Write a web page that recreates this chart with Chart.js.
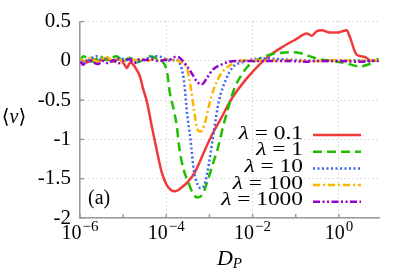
<!DOCTYPE html>
<html>
<head>
<meta charset="utf-8">
<title>&lt;v&gt; vs D_P</title>
<script src="https://cdn.jsdelivr.net/npm/chart.js@4.4.0/dist/chart.umd.min.js"></script>
<style>
  html, body { margin: 0; padding: 0; background: #fff; }
  #wrap { width: 407px; height: 271px; position: relative; }
</style>
</head>
<body>
<div id="wrap"><canvas id="c"></canvas></div>
<script>
// x values are read as decades on the log axis (log10 D_P), y is <v>
var lam01X = [-6.0,-5.85,-5.7,-5.55,-5.4,-5.25,-5.1,-4.98,-4.91,-4.84,-4.76,-4.68,-4.61,-4.54,-4.45,-4.33,-4.22,-4.10,-3.99,-3.90,-3.80,-3.64,-3.50,-3.34,-3.11,-2.95,-2.76,-2.46,-2.13,-1.83,-1.60,-1.30,-0.98,-0.75,-0.63,-0.51,-0.40,-0.21,-0.03,0.18,0.25,0.41,0.60,0.76,0.92];
var lam01Y = [0.01,-0.02,0.02,0.0,0.03,-0.01,0.02,-0.04,-0.09,-0.02,-0.05,-0.12,-0.2,-0.35,-0.52,-0.85,-1.14,-1.43,-1.58,-1.64,-1.66,-1.61,-1.54,-1.42,-1.14,-0.95,-0.76,-0.46,-0.22,-0.04,0.07,0.18,0.28,0.35,0.32,0.38,0.39,0.36,0.36,0.39,0.31,0.08,0.05,0.0,0.01];

var lam1X = [-6.0,-5.92,-5.8,-5.68,-5.55,-5.42,-5.3,-5.15,-5.0,-4.85,-4.7,-4.55,-4.42,-4.3,-4.2,-4.1,-3.98,-3.92,-3.82,-3.76,-3.69,-3.6,-3.48,-3.38,-3.28,-3.15,-3.04,-2.92,-2.80,-2.69,-2.57,-2.43,-2.27,-2.11,-1.97,-1.83,-1.60,-1.37,-1.14,-0.91,-0.68,-0.44,-0.14,0.16,0.48,0.71,0.92];
var lam1Y = [0.0,0.06,0.02,-0.01,0.07,0.01,0.03,0.06,0.0,0.04,-0.02,0.01,0.06,0.05,0.02,0.0,-0.15,-0.4,-0.64,-0.82,-1.14,-1.38,-1.56,-1.69,-1.74,-1.69,-1.52,-1.31,-1.10,-0.85,-0.61,-0.36,-0.19,-0.07,-0.01,0.03,0.08,0.10,0.11,0.10,0.06,0.02,0.0,-0.03,-0.07,-0.04,0.03];

var lam10X = [-6.0,-5.88,-5.75,-5.62,-5.5,-5.36,-5.22,-5.08,-4.94,-4.8,-4.66,-4.52,-4.38,-4.24,-4.12,-4.0,-3.88,-3.8,-3.65,-3.58,-3.52,-3.44,-3.36,-3.27,-3.2,-3.11,-3.01,-2.9,-2.78,-2.62,-2.46,-2.25,-2.0,-1.7,-1.3,-0.9,-0.5,-0.1,0.3,0.6,0.92];
var lam10Y = [0.01,-0.02,0.03,0.06,0.0,0.03,-0.02,0.04,0.01,0.03,-0.01,0.02,0.04,0.06,0.05,0.02,0.0,0.02,-0.09,-0.3,-0.66,-1.0,-1.4,-1.58,-1.62,-1.57,-1.3,-0.9,-0.51,-0.24,-0.08,-0.02,0.02,0.03,0.02,0.01,0.0,0.0,0.01,0.0,0.01];

var lam100X = [-6.0,-5.88,-5.75,-5.62,-5.5,-5.38,-5.25,-5.12,-5.0,-4.86,-4.72,-4.58,-4.44,-4.3,-4.15,-4.0,-3.85,-3.72,-3.62,-3.52,-3.43,-3.36,-3.28,-3.21,-3.12,-3.01,-2.9,-2.74,-2.53,-2.34,-2.0,-1.6,-1.2,-0.8,-0.4,0.0,0.4,0.92];
var lam100Y = [0.02,0.0,0.04,-0.01,0.02,0.05,0.0,0.03,-0.01,0.03,0.01,0.03,0.0,0.02,0.0,0.02,0.01,0.0,-0.03,-0.1,-0.35,-0.62,-0.87,-0.9,-0.82,-0.57,-0.36,-0.17,-0.06,0.0,0.01,0.0,0.01,0.0,0.0,0.01,0.0,0.01];

var lam1000X = [-6.0,-5.93,-5.82,-5.7,-5.58,-5.48,-5.35,-5.22,-5.1,-4.98,-4.86,-4.75,-4.62,-4.5,-4.35,-4.2,-4.05,-3.9,-3.8,-3.73,-3.59,-3.43,-3.28,-3.18,-3.05,-2.92,-2.69,-2.41,-2.0,-1.6,-1.2,-0.8,-0.4,0.0,0.4,0.92];
var lam1000Y = [0.0,-0.05,0.01,-0.02,-0.04,0.0,-0.03,0.01,-0.03,0.0,0.02,-0.03,0.02,0.01,0.02,0.0,0.01,0.02,0.05,0.05,-0.02,-0.14,-0.27,-0.3,-0.21,-0.11,-0.04,0.0,0.0,0.0,0.0,-0.01,0.0,0.0,-0.01,0.0];

var lambdaLabels = ['0.1', '1', '10', '100', '1000'];
var xDecades = [-6, -5, -4, -3, -2, -1, 0];     // tick marks
var xLabelDecades = [-6, -4, -2, 0];            // labelled ticks / grid lines
var yTicks = [0.5, 0, -0.5, -1, -1.5, -2];

var SERIF = '"Liberation Serif", "DejaVu Serif", serif';

function pts(xs, ys) {
  return xs.map(function (e, i) { return { x: Math.pow(10, e), y: ys[i] }; });
}

var decor = {
  id: 'decor',
  afterDraw: function (chart) {
    var ctx = chart.ctx, xs = chart.scales.x, ys = chart.scales.y, a = chart.chartArea;
    ctx.save();
    ctx.setLineDash([]);
    ctx.strokeStyle = '#9a9a9a';
    ctx.lineWidth = 1.5;
    // inward tick marks
    xDecades.forEach(function (e) {
      var px = xs.getPixelForValue(Math.pow(10, e));
      ctx.beginPath(); ctx.moveTo(px, a.bottom); ctx.lineTo(px, a.bottom - 4); ctx.stroke();
    });
    yTicks.forEach(function (v) {
      var py = ys.getPixelForValue(v);
      ctx.beginPath(); ctx.moveTo(a.left, py); ctx.lineTo(a.left + 4, py); ctx.stroke();
    });

    // x tick labels 10^n
    ctx.fillStyle = '#000';
    ctx.textBaseline = 'alphabetic';
    ctx.textAlign = 'left';
    xLabelDecades.forEach(function (e) {
      var px = xs.getPixelForValue(Math.pow(10, e));
      var sup = (e < 0 ? '\u2212' : '') + Math.abs(e);
      ctx.font = '20px ' + SERIF;
      var wb = ctx.measureText('10').width;
      ctx.font = '15px ' + SERIF;
      var ws = ctx.measureText(sup).width;
      var x0 = px - (wb + ws + 1) / 2;
      ctx.font = '20px ' + SERIF;
      ctx.fillText('10', x0, 239);
      ctx.font = '15px ' + SERIF;
      ctx.fillText(sup, x0 + wb + 1, 231);
    });

    // axis titles
    ctx.font = 'italic 22px ' + SERIF;
    var wD = ctx.measureText('D').width;
    ctx.font = 'italic 15px ' + SERIF;
    var wP = ctx.measureText('P').width;
    var xt = (a.left + a.right) / 2 - (wD + wP) / 2;
    ctx.font = 'italic 22px ' + SERIF;
    ctx.fillText('D', xt, 265);
    ctx.font = 'italic 15px ' + SERIF;
    ctx.fillText('P', xt + wD, 268);

    ctx.font = '20px ' + SERIF;
    var wl = ctx.measureText('\u27E8').width;
    ctx.font = 'italic 20px ' + SERIF;
    var wv = ctx.measureText('v').width;
    var yx = 14 - (2 * wl + wv) / 2, yb = 123;
    ctx.font = '20px ' + SERIF;
    ctx.fillText('\u27E8', yx, yb);
    ctx.font = 'italic 20px ' + SERIF;
    ctx.fillText('v', yx + wl, yb);
    ctx.font = '20px ' + SERIF;
    ctx.fillText('\u27E9', yx + wl + wv, yb);

    // panel label
    ctx.font = '20px ' + SERIF;
    ctx.fillText('(a)', 88, 204);

    // legend, text right-aligned with sample line on the right
    var textRight = 303, lineL = 313, lineR = 361, sx = 1.3, gap = 4.5;
    chart.data.datasets.forEach(function (ds, i) {
      var base = 138.5 + i * 16.7;
      ctx.save();
      ctx.translate(textRight, base);
      ctx.scale(sx, 1);
      ctx.textAlign = 'right';
      ctx.font = '18px ' + SERIF;
      ctx.fillText(lambdaLabels[i], 0, 0);
      var wn = ctx.measureText(lambdaLabels[i]).width;
      var wEq = ctx.measureText('=').width;
      ctx.fillText('=', -wn - gap, 0);
      ctx.font = 'italic 18px ' + SERIF;
      ctx.fillText('\u03BB', -wn - gap - wEq - gap, 0);
      ctx.restore();
      ctx.save();
      ctx.strokeStyle = ds.borderColor;
      ctx.lineWidth = ds.borderWidth;
      ctx.setLineDash(ds.borderDash || []);
      ctx.beginPath(); ctx.moveTo(lineL, base - 3.5); ctx.lineTo(lineR, base - 3.5); ctx.stroke();
      ctx.restore();
    });
    ctx.restore();
  }
};

function series(xs, ys, color, dash, order) {
  return {
    data: pts(xs, ys),
    borderColor: color,
    borderWidth: 2.5,
    borderDash: dash,
    pointRadius: 0,
    fill: false,
    cubicInterpolationMode: 'monotone',
    order: order
  };
}

new Chart(document.getElementById('c'), {
  type: 'line',
  data: {
    datasets: [
      series(lam01X, lam01Y, '#f03a3a', [], 4),
      series(lam1X, lam1Y, '#1fbf00', [9, 5], 3),
      series(lam10X, lam10Y, '#3c64e6', [2, 2.5], 2),
      series(lam100X, lam100Y, '#ffb400', [7, 3, 2, 3], 1),
      series(lam1000X, lam1000Y, '#9400d3', [7, 2.5, 2, 2.5, 2, 2.5], 0)
    ]
  },
  options: {
    responsive: true,
    maintainAspectRatio: false,
    animation: false,
    layout: { padding: { top: 20, right: 28, left: 0, bottom: 0 } },
    plugins: { legend: { display: false }, tooltip: { enabled: false } },
    scales: {
      x: {
        type: 'logarithmic',
        min: 1e-6,
        max: 8.5,
        afterBuildTicks: function (s) {
          s.ticks = xLabelDecades.map(function (e) { return { value: Math.pow(10, e) }; });
        },
        afterFit: function (s) { s.height = 53; },
        ticks: { callback: function () { return ''; }, autoSkip: false },
        grid: { color: '#bdbdbd', lineWidth: 1, drawTicks: false },
        border: { color: '#9a9a9a', width: 1.5, dash: [1, 3] }
      },
      y: {
        min: -2,
        max: 0.5,
        afterBuildTicks: function (s) {
          s.ticks = yTicks.map(function (v) { return { value: v }; });
        },
        afterFit: function (s) { s.width = 80; },
        ticks: {
          padding: 9,
          color: '#000',
          font: { family: SERIF, size: 21 },
          callback: function (v) { return String(v); }
        },
        grid: { color: '#bdbdbd', lineWidth: 1, drawTicks: false },
        border: { color: '#9a9a9a', width: 1.5, dash: [1, 3] }
      }
    }
  },
  plugins: [decor]
});
</script>
</body>
</html>
